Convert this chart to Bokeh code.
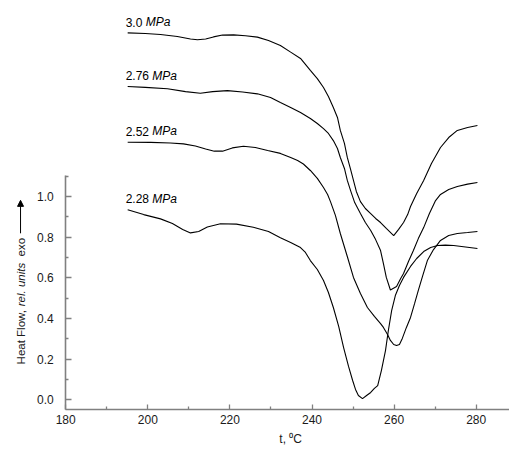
import math
from bokeh.plotting import figure
from bokeh.models import (ColumnDataSource, FixedTicker, Arrow, NormalHead, Range1d,
                          PrintfTickFormatter)
from bokeh.core.properties import value
from bokeh.embed import file_html
from bokeh.resources import INLINE

# ---- data (temperature t, degC ; heat flow, rel. units) ----
t_300 = [195.1, 199.4, 203.1, 207.2, 210.4, 212.1, 214.1, 216.0, 218.2, 220.9, 223.8, 226.7,
         229.4, 232.3, 234.8, 237.2, 239.6, 241.3, 242.8, 244.0, 245.2, 246.2, 246.9, 247.9,
         248.6, 249.4, 250.1, 250.8, 251.8, 253.0, 254.3, 255.5, 256.7, 258.1, 259.9, 261.1,
         262.3, 263.3, 264.0, 265.5, 267.2, 269.1, 271.3, 273.3, 275.4, 277.9, 280.3]
hf_300 = [1.805, 1.802, 1.797, 1.787, 1.775, 1.771, 1.775, 1.785, 1.794, 1.795, 1.791, 1.784,
          1.767, 1.743, 1.710, 1.679, 1.620, 1.580, 1.536, 1.492, 1.438, 1.389, 1.325, 1.261,
          1.192, 1.133, 1.079, 1.025, 0.975, 0.941, 0.916, 0.892, 0.872, 0.843, 0.808, 0.838,
          0.872, 0.911, 0.951, 1.015, 1.079, 1.162, 1.241, 1.290, 1.325, 1.339, 1.349]

t_276 = [195.1, 199.4, 204.8, 209.2, 212.8, 215.8, 219.4, 223.1, 226.7, 229.9, 232.3, 234.8,
         237.2, 239.6, 241.3, 242.8, 244.0, 245.2, 246.2, 246.9, 247.9, 248.6, 249.4, 250.4,
         251.8, 253.0, 254.3, 255.5, 256.7, 257.4, 258.1, 259.1, 260.6, 261.6, 262.3, 263.5,
         264.7, 265.9, 267.2, 268.6, 270.1, 271.3, 273.3, 275.4, 277.9, 280.3]
hf_276 = [1.541, 1.537, 1.530, 1.516, 1.508, 1.516, 1.521, 1.514, 1.505, 1.487, 1.462, 1.438,
          1.413, 1.384, 1.359, 1.334, 1.310, 1.275, 1.236, 1.192, 1.138, 1.079, 1.029, 0.970,
          0.916, 0.872, 0.833, 0.788, 0.734, 0.670, 0.602, 0.540, 0.557, 0.597, 0.621, 0.680,
          0.734, 0.793, 0.847, 0.916, 0.980, 1.010, 1.034, 1.049, 1.061, 1.069]

t_252 = [195.1, 200.7, 205.5, 208.7, 211.6, 214.1, 216.2, 218.2, 220.6, 223.3, 226.2, 229.2,
         232.3, 234.8, 236.5, 237.9, 239.6, 241.3, 242.8, 243.8, 244.5, 245.7, 246.9, 248.6,
         250.1, 251.8, 253.5, 255.2, 256.7, 257.4, 258.4, 259.1, 259.9, 260.6, 261.3, 262.0,
         263.0, 264.0, 265.0, 265.9, 266.9, 268.1, 269.6, 271.3, 273.3, 275.4, 277.9, 280.3]
hf_252 = [1.267, 1.266, 1.263, 1.259, 1.248, 1.234, 1.223, 1.223, 1.239, 1.247, 1.241, 1.226,
          1.212, 1.192, 1.177, 1.160, 1.128, 1.089, 1.044, 1.010, 0.975, 0.907, 0.818, 0.705,
          0.602, 0.523, 0.454, 0.410, 0.375, 0.356, 0.321, 0.292, 0.272, 0.267, 0.272, 0.302,
          0.356, 0.405, 0.474, 0.538, 0.606, 0.685, 0.739, 0.784, 0.808, 0.818, 0.823, 0.828]

t_228 = [195.1, 199.0, 203.1, 206.0, 208.5, 210.4, 212.4, 214.5, 217.7, 221.6, 225.7, 229.4,
         232.3, 234.8, 237.2, 238.4, 239.6, 241.3, 242.8, 244.0, 245.2, 246.5, 247.7, 248.9,
         249.9, 250.6, 251.3, 252.3, 253.3, 254.3, 255.2, 256.0, 256.9, 257.9, 258.6, 259.4,
         260.3, 261.3, 262.3, 264.0, 265.5, 267.2, 268.9, 270.6, 272.5, 274.5, 277.4, 280.3]
hf_228 = [0.935, 0.911, 0.890, 0.867, 0.838, 0.821, 0.828, 0.850, 0.866, 0.864, 0.849, 0.828,
          0.797, 0.774, 0.749, 0.725, 0.685, 0.641, 0.587, 0.528, 0.454, 0.361, 0.257, 0.164,
          0.095, 0.051, 0.021, 0.006, 0.021, 0.036, 0.056, 0.070, 0.144, 0.242, 0.341, 0.439,
          0.513, 0.562, 0.602, 0.656, 0.695, 0.729, 0.749, 0.759, 0.761, 0.759, 0.752, 0.744]

pressures = ["3.0", "2.76", "2.52", "2.28"]
unit = "MPa"
label_t = [194.6, 194.6, 194.6, 194.6]
label_hf = [1.858, 1.595, 1.322, 0.990]

x_major = [180, 200, 220, 240, 260, 280]
x_minor = [190, 210, 230, 250, 270]
y_major = [0.0, 0.2, 0.4, 0.6, 0.8, 1.0]
y_minor = [0.1, 0.3, 0.5, 0.7, 0.9, 1.1]

x_title = "t, \u2070C"
y_title = ["Heat Flow, ", "rel. units", "exo"]

FONT = "Liberation Sans"
AXIS_GREY = "#808080"
TXT = "#1a1a1a"

p = figure(width=509, height=452,
           x_range=Range1d(164.12, 288.11), y_range=Range1d(-0.2592, 1.9641),
           output_backend="svg", toolbar_location=None,
           min_border_left=0, min_border_right=0, min_border_top=0, min_border_bottom=0)
p.outline_line_color = None
p.grid.visible = False
p.background_fill_color = "white"

for ts, hs in [(t_300, hf_300), (t_276, hf_276), (t_252, hf_252), (t_228, hf_228)]:
    p.line(ts, hs, line_color="black", line_width=1.1)

# curve labels: number + italic unit
char_w = {"0": 0.556, "1": 0.556, "2": 0.556, "3": 0.556, "4": 0.556, "5": 0.556,
          "6": 0.556, "7": 0.556, "8": 0.556, "9": 0.556, ".": 0.278, " ": 0.278}
fs = 12
offsets = [sum(char_w[c] for c in s + " ") * fs for s in pressures]
src = ColumnDataSource(dict(t=label_t, hf=label_hf, num=pressures, unit=[unit] * 4, off=offsets))
p.text(x="t", y="hf", text="num", source=src, text_font=value(FONT), text_font_size=f"{fs}px",
       text_color="black", text_baseline="middle", text_align="left")
p.text(x="t", y="hf", text="unit", x_offset="off", source=src, text_font=value(FONT),
       text_font_size=f"{fs}px", text_font_style="italic", text_color="black",
       text_baseline="middle", text_align="left")

# axes at fixed positions
p.xaxis.fixed_location = -0.049
p.yaxis.fixed_location = 180
p.xaxis.bounds = (180, 288.11)
p.yaxis.bounds = (-0.049, 1.103)
p.xaxis.ticker = FixedTicker(ticks=x_major, minor_ticks=x_minor)
p.yaxis.ticker = FixedTicker(ticks=y_major, minor_ticks=y_minor)
p.yaxis.formatter = PrintfTickFormatter(format="%.1f")
for ax in (p.xaxis, p.yaxis):
    ax.axis_line_color = AXIS_GREY
    ax.axis_line_width = 1.6
    ax.major_tick_line_color = AXIS_GREY
    ax.minor_tick_line_color = AXIS_GREY
    ax.major_tick_line_width = 1.3
    ax.minor_tick_line_width = 1.3
    ax.major_tick_out = 0
    ax.minor_tick_out = 0
    ax.major_label_text_font = FONT
    ax.major_label_text_font_size = "12px"
    ax.major_label_text_color = TXT
p.xaxis.major_tick_in = 5
p.xaxis.minor_tick_in = 3
p.yaxis.major_tick_in = 6
p.yaxis.minor_tick_in = 3
p.yaxis.major_label_standoff = 12
p.xaxis.major_label_standoff = 5

# x title
p.text(x=[234.8], y=[-0.193], text=[x_title], text_font=value(FONT), text_font_size="12px",
       text_color=TXT, text_align="center", text_baseline="middle")

# y title pieces (rotated, reading upwards)
ylab_t = 169.0
yfs = "11.5px"
p.text(x=[ylab_t] * 3, y=[0.174, 0.460, 0.705], text=y_title, angle=math.pi / 2,
       text_font=value(FONT), text_font_size=yfs, text_color=TXT,
       text_font_style=["normal", "italic", "normal"],
       text_align="left", text_baseline="middle")
p.add_layout(Arrow(end=NormalHead(size=6, line_color="black", fill_color="black"),
                   x_start=ylab_t, y_start=0.819, x_end=ylab_t, y_end=0.981,
                   line_color="black", line_width=1))

open("out.html", "w").write(file_html(p, INLINE))
